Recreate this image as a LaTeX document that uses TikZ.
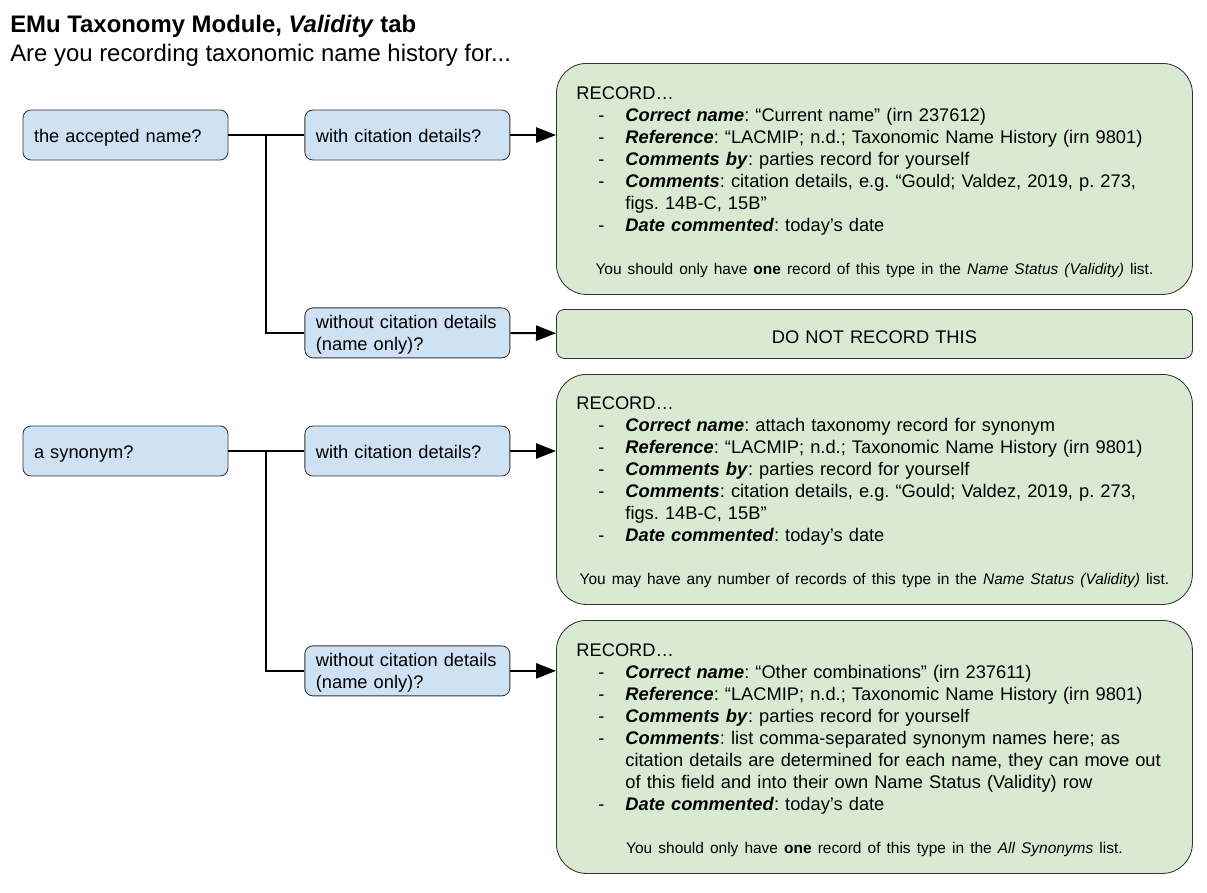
\documentclass[tikz,border=0pt]{standalone}
\usepackage{fontspec}
\setmainfont{Liberation Sans}
\usetikzlibrary{arrows.meta,positioning}
\definecolor{askblue}{HTML}{CFE2F3}
\definecolor{recgreen}{HTML}{D9EAD3}
\frenchspacing
\newcommand{\itm}{\makebox[1.225cm][l]{\hspace*{0.55cm}-}}
\newcommand{\hng}{\hspace*{1.225cm}}
\newcommand{\fld}[1]{\textbf{\textit{#1}}}
\newcommand{\note}[1]{\par\vspace{17.5pt}{\centering\fontsize{11}{13}\selectfont #1\par}}
\tikzset{ >={Triangle[length=0.5cm,width=0.38cm]},
  ask/.style={ rectangle, rounded corners=0.2cm, draw=black!80, fill=askblue, line width=0.6pt,
    minimum width=5.125cm, minimum height=1.25cm, text width=4.575cm, align=left,
    inner xsep=0.275cm, inner ysep=0.05cm, font=\fontsize{13}{15.65}\selectfont,
    execute at begin node={\rule{0pt}{13pt}}, execute at end node={\rule[-3pt]{0pt}{3pt}}},
  rec/.style={ rectangle, rounded corners=0.75cm, draw=black!80, fill=recgreen, line width=0.6pt,
    minimum width=15.9cm, text width=14.9cm, align=left, inner xsep=0.5cm, inner ysep=0pt,
    anchor=north west, font=\fontsize{13}{15.65}\selectfont,
    execute at begin node={\rule{0pt}{13.5pt}}},
  pil/.style={ ->, line width=1.4pt},
  lin/.style={ line width=1.4pt}}

\begin{document}
\begin{tikzpicture}
    \useasboundingbox (0,0) rectangle (30.175,-22.3);
    % heading
    \node[anchor=base west, inner sep=0, font=\fontsize{17}{20}\selectfont\bfseries]
      (title) at (0.25,-0.8) {EMu Taxonomy Module, \textit{Validity} tab};
    \node[anchor=base west, inner sep=0, font=\fontsize{17}{20}\selectfont]
      (subtitle) at (0.25,-1.525) {Are you recording taxonomic name history for...};
    %questions
    \node[ask] (accepted) at (3.1375,-3.375) {the accepted name?};
    \node[ask, right=1.9cm of accepted] (acccite) {with citation details?};
    \node[ask, below=3.675cm of acccite] (accnocite) {without citation details (name only)?};
    \node[ask] (synonym) at (3.1375,-11.275) {a synonym?};
    \node[ask, right=1.9cm of synonym] (syncite) {with citation details?};
    \node[ask, below=4.225cm of syncite] (synnocite) {without citation details (name only)?};
    %answers
    \node[rec, minimum height=5.775cm] (recA) at (13.9,-1.575) {RECORD…\\
      \itm\fld{Correct name}: “Current name” (irn 237612)\\
      \itm\fld{Reference}: “LACMIP; n.d.; Taxonomic Name History (irn 9801)\\
      \itm\fld{Comments by}: parties record for yourself\\
      \itm\fld{Comments}: citation details, e.g. “Gould; Valdez, 2019, p. 273,\\
      \hng figs. 14B-C, 15B”\\
      \itm\fld{Date commented}: today’s date
      \note{You should only have \textbf{one} record of this type in the \textit{Name Status (Validity)} list.}};
    \node[rec, rounded corners=0.2cm, minimum height=1.225cm, align=center,
      execute at begin node={\rule{0pt}{12pt}}] (skip) at (13.9,-7.725) {DO NOT RECORD THIS};
    \node[rec, minimum height=5.75cm] (recB) at (13.9,-9.35) {RECORD…\\
      \itm\fld{Correct name}: attach taxonomy record for synonym\\
      \itm\fld{Reference}: “LACMIP; n.d.; Taxonomic Name History (irn 9801)\\
      \itm\fld{Comments by}: parties record for yourself\\
      \itm\fld{Comments}: citation details, e.g. “Gould; Valdez, 2019, p. 273,\\
      \hng figs. 14B-C, 15B”\\
      \itm\fld{Date commented}: today’s date
      \note{You may have any number of records of this type in the \textit{Name Status (Validity)} list.}};
    \node[rec, minimum height=6.325cm] (recC) at (13.9,-15.5) {RECORD…\\
      \itm\fld{Correct name}: “Other combinations” (irn 237611)\\
      \itm\fld{Reference}: “LACMIP; n.d.; Taxonomic Name History (irn 9801)\\
      \itm\fld{Comments by}: parties record for yourself\\
      \itm\fld{Comments}: list comma-separated synonym names here; as\\
      \hng citation details are determined for each name, they can move out\\
      \hng of this field and into their own Name Status (Validity) row\\
      \itm\fld{Date commented}: today’s date
      \note{You should only have \textbf{one} record of this type in the \textit{All Synonyms} list.}};
    %connectors
    \draw[lin] (accepted) -- (acccite) coordinate[midway] (splitA);
    \draw[lin] (splitA) |- (accnocite);
    \draw[lin] (synonym) -- (syncite) coordinate[midway] (splitB);
    \draw[lin] (splitB) |- (synnocite);
    \draw[pil] (acccite) -- (acccite -| recA.west);
    \draw[pil] (accnocite) -- (skip);
    \draw[pil] (syncite) -- (syncite -| recB.west);
    \draw[pil] (synnocite) -- (synnocite -| recC.west);
\end{tikzpicture}
\end{document}
